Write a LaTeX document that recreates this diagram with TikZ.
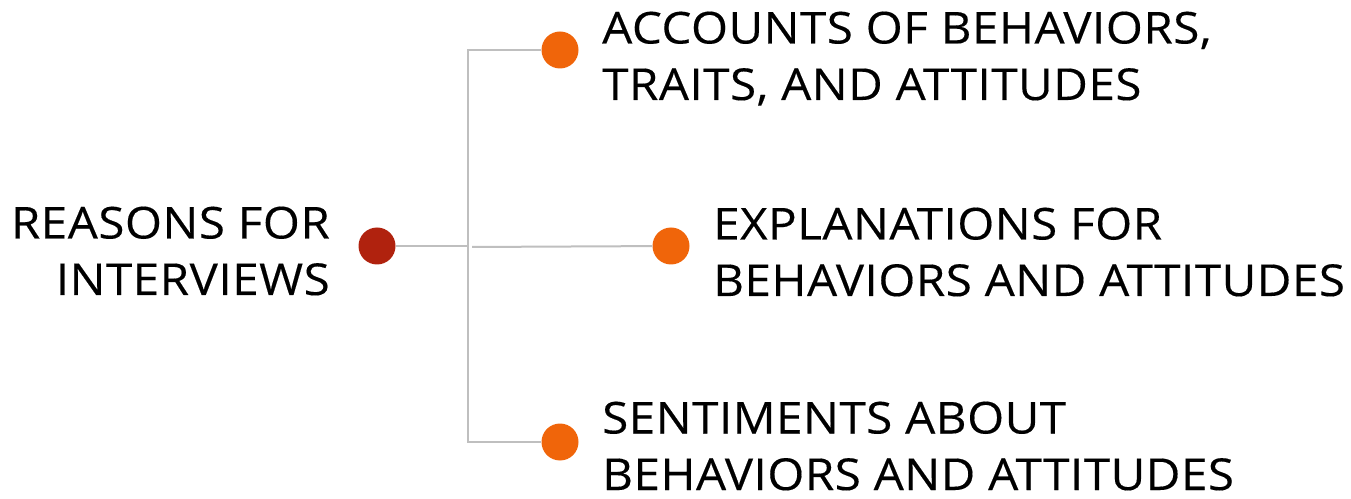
\documentclass[tikz,border=0pt]{standalone}
\usepackage{fontspec}
\setmainfont{Open Sans}[FakeStretch=1.08,LetterSpace=1.2,FakeBold=0.3]
\definecolor{linegray}{HTML}{BFBFBF}
\definecolor{hubred}{HTML}{B0220E}
\definecolor{leaforange}{HTML}{F0650A}
\begin{document}
\begin{tikzpicture}[x=1pt,y=1pt,
  conn/.style={draw=linegray,line width=2pt},
  hub/.style={circle,fill=hubred,minimum size=37pt,inner sep=0pt},
  leaf/.style={circle,fill=leaforange,minimum size=37pt,inner sep=0pt},
  lbl/.style={font=\fontsize{44}{56.5}\selectfont,inner sep=0pt,text=black}]
\useasboundingbox (0,0) rectangle (1351,498);
% dots
\node[hub]  (hub) at (377,252) {};
\node[leaf] (a) at (560,448) {};
\node[leaf] (b) at (671,252) {};
\node[leaf] (c) at (560,56) {};
% trunk coordinates
\coordinate (ttop) at (468,448);
\coordinate (tmid) at (468,252);
\coordinate (tbot) at (468,56);
\coordinate (bstart) at (472,251);
% connectors
\draw[conn] (hub) -- (tmid);
\draw[conn] (a) -- (ttop) -- (tbot) -- (c);
\draw[conn] (bstart) -- (b);
% labels
\node[lbl,align=right,anchor=base east] (tl) at (330,203) {REASONS FOR\\INTERVIEWS};
\node[lbl,align=left,anchor=base west] (ta) at (602,398) {ACCOUNTS OF BEHAVIORS,\\TRAITS, AND ATTITUDES};
\node[lbl,align=left,anchor=base west] (tb) at (713,202) {EXPLANATIONS FOR\\BEHAVIORS AND ATTITUDES};
\node[lbl,align=left,anchor=base west] (tc) at (602,8) {SENTIMENTS ABOUT\\BEHAVIORS AND ATTITUDES};
\end{tikzpicture}
\end{document}
